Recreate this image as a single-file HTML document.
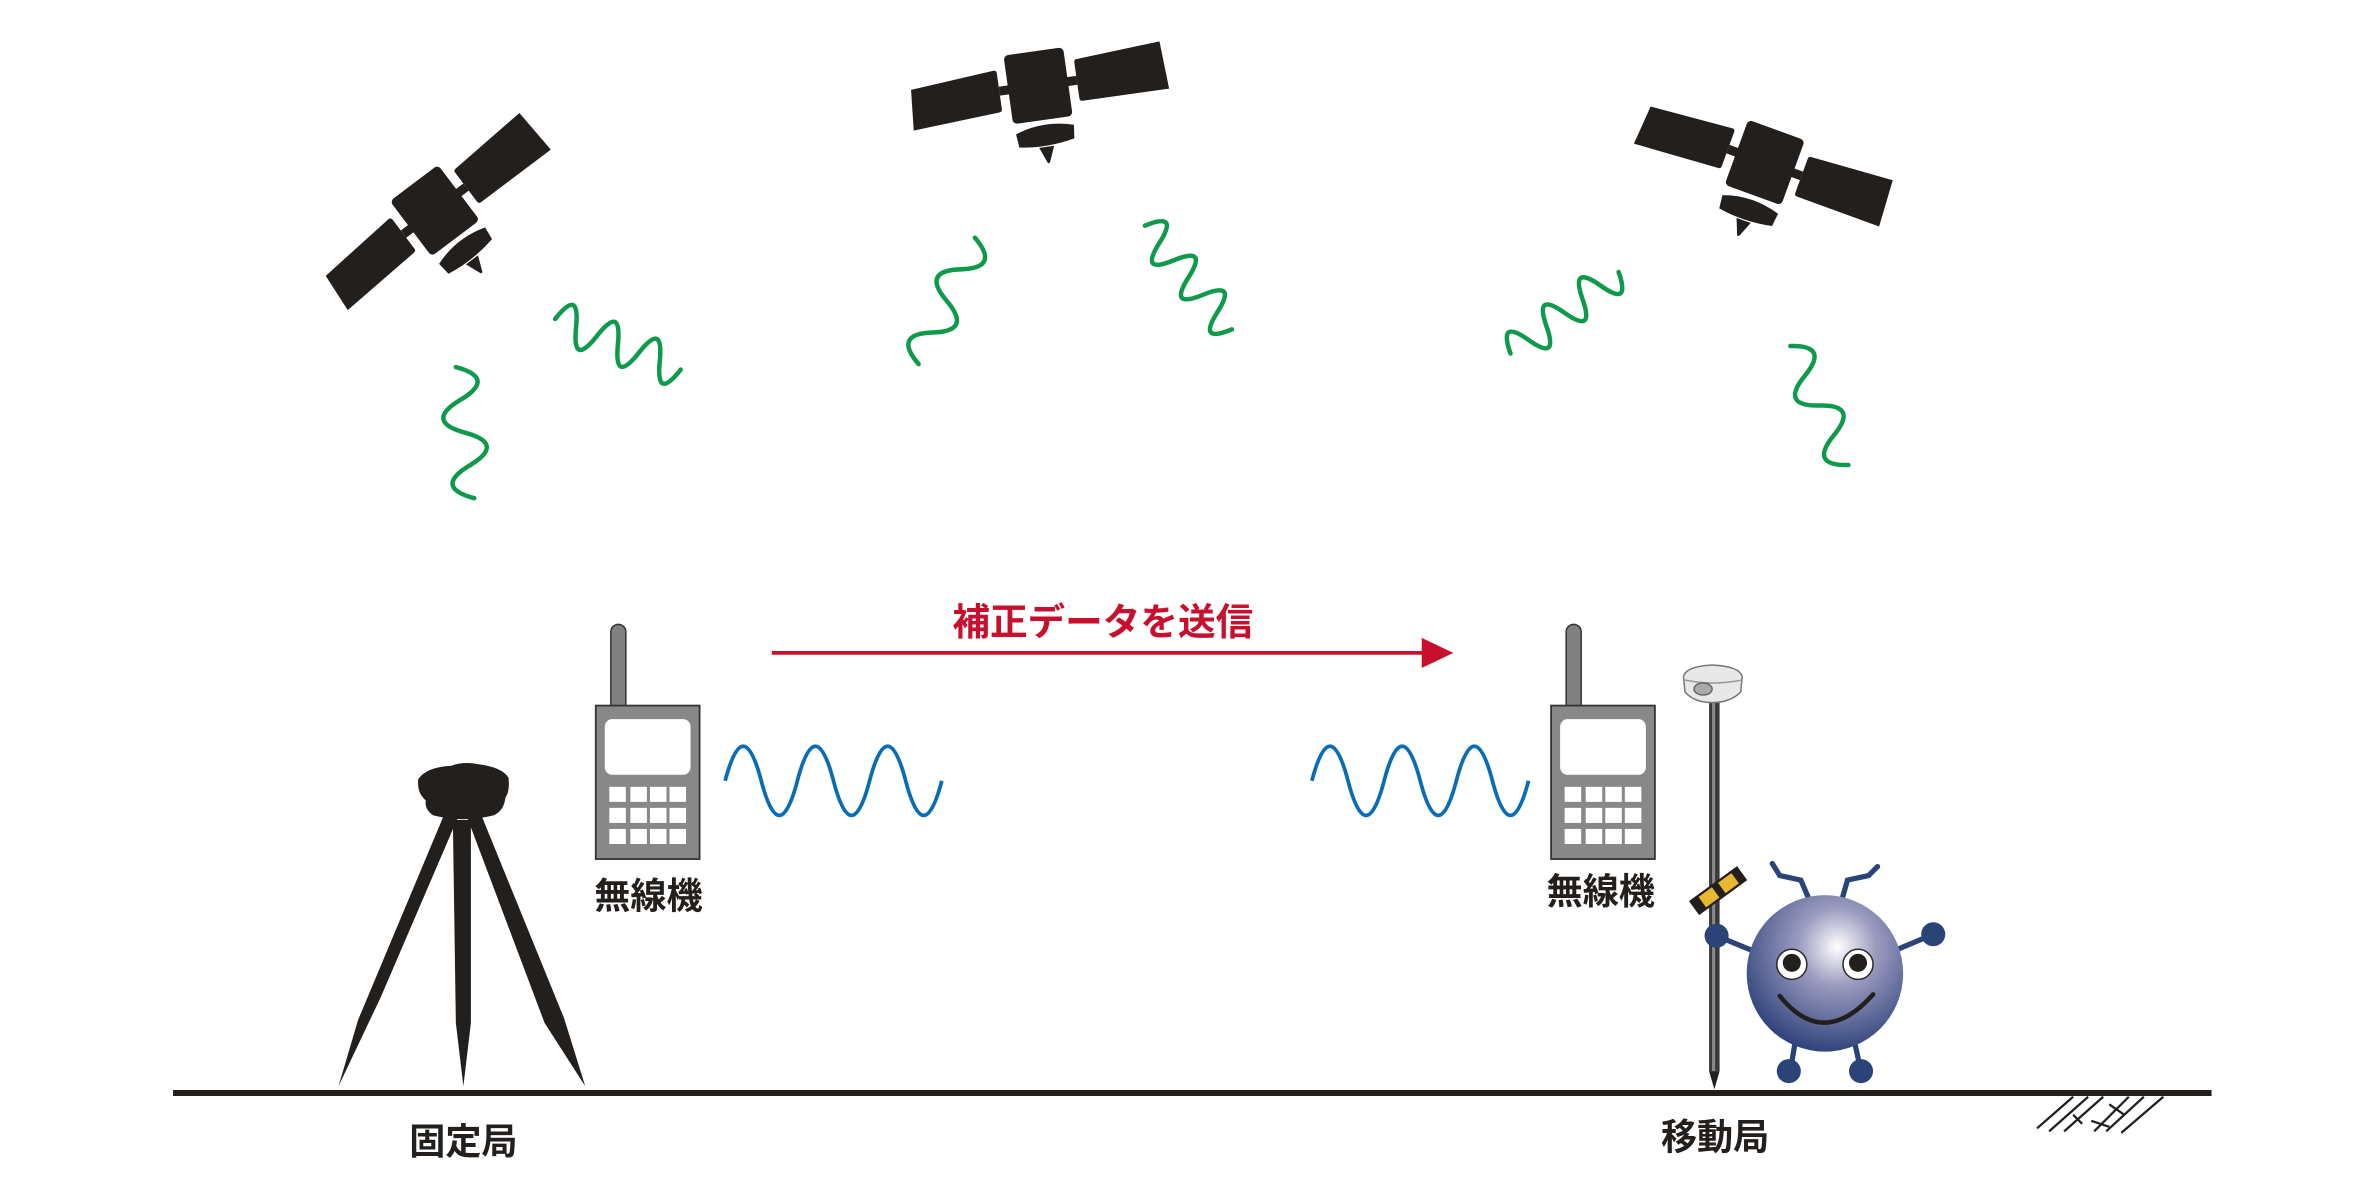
<!DOCTYPE html>
<html><head><meta charset="utf-8"><style>
html,body{margin:0;padding:0;background:#fff;}
svg{display:block;}
text{font-family:"Liberation Sans","Noto Sans CJK JP",sans-serif;}
</style></head><body>
<svg width="2359" height="1201" viewBox="0 0 1568 798.3" preserveAspectRatio="none" xmlns="http://www.w3.org/2000/svg">
<defs>
<g id="sat" fill="#231f1d">
  <rect x="-26" y="-3" width="52" height="6"/>
  <rect x="-20" y="-23" width="40" height="46" rx="3"/>
  <path d="M-84 -9 L-28 -14 Q-26 -14 -26 -12 L-26 12 Q-26 14 -28 14 L-86 18 Z"/>
  <path d="M28 -14 L84 -18 L86 14 L28 14 Q26 14 26 12 L26 -12 Q26 -14 28 -14 Z"/>
  <path d="M-19 30 Q0 23 20 29 L19 38 Q0 42 -18 39 Z"/>
  <path d="M-5 41 L5 41 L1 51 Q0 53 -1 51 Z"/>
</g>
<radialGradient id="ball" cx="0.58" cy="0.33" r="0.7">
  <stop offset="0" stop-color="#ffffff"/>
  <stop offset="0.35" stop-color="#9c9cc0"/>
  <stop offset="1" stop-color="#2b3f78"/>
</radialGradient>
<g id="radio">
  <rect x="10" y="0" width="10" height="60" rx="5" fill="#808080" stroke="#333" stroke-width="1"/>
  <rect x="0" y="54" width="69" height="102" fill="#888" stroke="#333" stroke-width="1.2"/>
  <rect x="6" y="63" width="57" height="37" rx="5" fill="#fff"/>
  <g fill="#fff">
    <rect x="9" y="108" width="11" height="10"/><rect x="23" y="108" width="11" height="10"/><rect x="36" y="108" width="11" height="10"/><rect x="49" y="108" width="11" height="10"/>
    <rect x="9" y="122" width="11" height="10"/><rect x="23" y="122" width="11" height="10"/><rect x="36" y="122" width="11" height="10"/><rect x="49" y="122" width="11" height="10"/>
    <rect x="9" y="136" width="11" height="10"/><rect x="23" y="136" width="11" height="10"/><rect x="36" y="136" width="11" height="10"/><rect x="49" y="136" width="11" height="10"/>
  </g>
</g>
</defs>

<use href="#sat" transform="translate(289,140) rotate(-37)"/>
<use href="#sat" transform="translate(690,57) rotate(-8)"/>
<use href="#sat" transform="translate(1173,108) rotate(20)"/>

<g fill="none" stroke="#0f9a4b" stroke-width="3" stroke-linecap="round">
  <path transform="translate(303,244) rotate(82)" d="M0 0 q11 -26 22 0 t22 0 t22 0 t22 0"/>
  <path transform="translate(369,212) rotate(22)" d="M0 0 q7.5 -26 15 0 t15 0 t15 0 t15 0 t15 0 t15 0"/>
  <path transform="translate(648,158) rotate(114)" d="M0 0 q11.5 -24 23 0 t23 0 t23 0 t23 0"/>
  <path transform="translate(761,150) rotate(50)" d="M0 0 q7.5 -24 15 0 t15 0 t15 0 t15 0 t15 0 t15 0"/>
  <path transform="translate(1004,235) rotate(-37)" d="M0 0 q7.5 -24 15 0 t15 0 t15 0 t15 0 t15 0 t15 0"/>
  <path transform="translate(1190,230) rotate(64)" d="M0 0 q11 -24 22 0 t22 0 t22 0 t22 0"/>
</g>

<text x="733" y="422" font-size="25" font-weight="bold" fill="#c8102e" text-anchor="middle">補正データを送信</text>
<line x1="513" y1="434" x2="948" y2="434" stroke="#c8102e" stroke-width="2.5"/>
<path d="M945 424 L966 434 L945 444 Z" fill="#c8102e"/>

<use href="#radio" transform="translate(396,415)"/>
<use href="#radio" transform="translate(1031,415)"/>

<g fill="none" stroke="#0a6cb5" stroke-width="2.5">
  <path d="M482 519 q12 -46 24 0 t24 0 t24 0 t24 0 t24 0 t24 0"/>
  <path d="M872 519 q12 -46 24 0 t24 0 t24 0 t24 0 t24 0 t24 0"/>
</g>

<text x="431" y="604" font-size="24" font-weight="bold" fill="#231f1d" text-anchor="middle">無線機</text>
<text x="1064" y="601" font-size="24" font-weight="bold" fill="#231f1d" text-anchor="middle">無線機</text>

<g fill="#231f1d">
  <path d="M278 518 Q283 510 300 509 Q308 506 318 508 Q334 510 338 517 Q339 526 336 530 Q335 539 328 542 Q308 547 288 542 Q282 538 283 532 Q277 527 278 518 Z"/>
  <path d="M295 542 L305 542 L253 663 L225 722 L238 678 Z"/>
  <path d="M301 545 L313 545 L313 680 L308 722 L303 680 Z"/>
  <path d="M310 542 L320 542 L375 677 L389 722 L362 680 Z"/>
</g>

<line x1="115" y1="726.5" x2="1470" y2="726.5" stroke="#231f1d" stroke-width="4"/>
<g stroke="#231f1d" stroke-width="1.5">
  <line x1="1378" y1="729" x2="1354" y2="750"/>
  <line x1="1388" y1="729" x2="1362" y2="752"/>
  <line x1="1398" y1="729" x2="1372" y2="752"/>
  <line x1="1415" y1="729" x2="1392" y2="752"/>
  <line x1="1425" y1="729" x2="1400" y2="752"/>
  <line x1="1438" y1="729" x2="1410" y2="753"/>
  <line x1="1402" y1="734" x2="1412" y2="741"/>
  <line x1="1390" y1="745" x2="1402" y2="749"/>
  <line x1="1378" y1="741" x2="1384" y2="747"/>
</g>

<text x="308" y="767" font-size="24" font-weight="bold" fill="#231f1d" text-anchor="middle">固定局</text>
<text x="1140" y="764" font-size="24" font-weight="bold" fill="#231f1d" text-anchor="middle">移動局</text>

<rect x="1136" y="462" width="7" height="250" fill="#3a3a3a"/>
<rect x="1138" y="462" width="2" height="250" fill="#8a8a8a"/>
<path d="M1136 712 L1143 712 L1139.5 724 Z" fill="#231f1d"/>
<path d="M1119 450 Q1120 443 1138 442 Q1157 443 1158 450 L1157 460 Q1150 467 1138 467 Q1126 467 1120 460 Z" fill="#e8e8e8" stroke="#777" stroke-width="1"/>
<path d="M1120 452 Q1138 456 1158 452" fill="none" stroke="#999" stroke-width="1"/>
<ellipse cx="1132" cy="458" rx="6" ry="4" fill="#aaa" stroke="#666" stroke-width="1"/>

<g transform="translate(1142,592) rotate(-36)">
  <rect x="-19" y="-5" width="38" height="10" fill="#e8b830" stroke="#231f1d" stroke-width="1.5"/>
  <rect x="-19" y="-5" width="6" height="10" fill="#231f1d"/>
  <rect x="-2" y="-5" width="5" height="10" fill="#231f1d"/>
  <rect x="14" y="-5" width="5" height="10" fill="#231f1d"/>
</g>

<g stroke="#2b4478" stroke-width="3.5" fill="none" stroke-linecap="round">
  <path d="M1203 599 L1197 585 L1183 582 L1178 574"/>
  <path d="M1224 599 L1228 585 L1242 582 L1248 576"/>
  <line x1="1141" y1="622" x2="1170" y2="634"/>
  <line x1="1285" y1="621" x2="1259" y2="632"/>
  <line x1="1193" y1="694" x2="1190" y2="712"/>
  <line x1="1233" y1="694" x2="1237" y2="712"/>
</g>
<circle cx="1141" cy="622" r="8" fill="#2b4478"/>
<circle cx="1285" cy="621" r="8" fill="#2b4478"/>
<circle cx="1189" cy="712" r="8" fill="#2b4478"/>
<circle cx="1237" cy="712" r="8" fill="#2b4478"/>
<circle cx="1213" cy="647" r="52" fill="url(#ball)"/>
<circle cx="1191" cy="641" r="10" fill="#fff" stroke="#2b2b2b" stroke-width="1"/>
<circle cx="1191" cy="640" r="6" fill="#231f1d"/>
<circle cx="1235" cy="641" r="10" fill="#fff" stroke="#2b2b2b" stroke-width="1"/>
<circle cx="1235" cy="640" r="6" fill="#231f1d"/>
<path d="M1183 662 Q1212 698 1245 661" fill="none" stroke="#231f1d" stroke-width="3" stroke-linecap="round"/>
</svg>
</body></html>
